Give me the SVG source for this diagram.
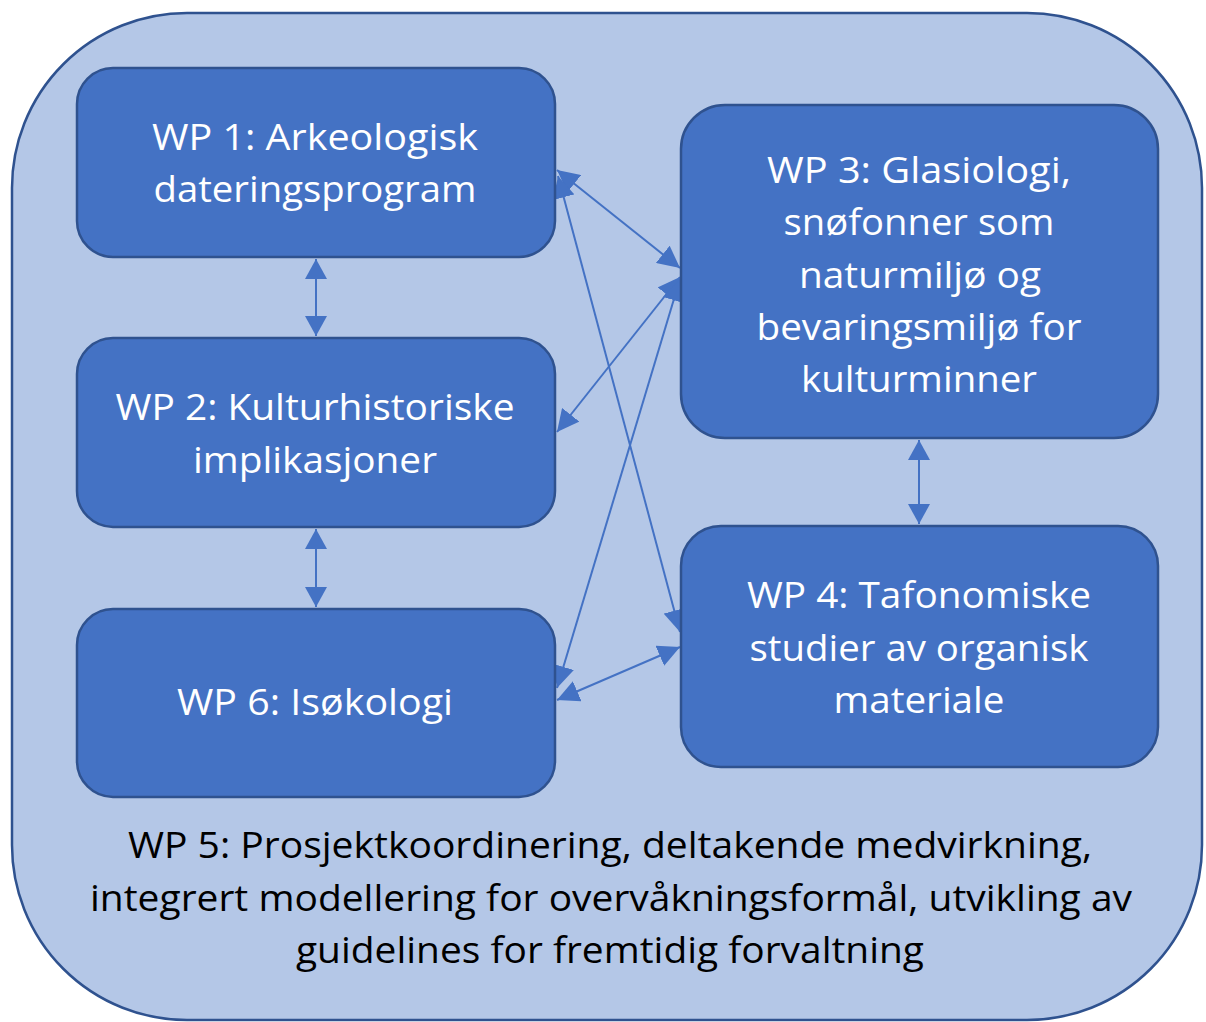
<svg xmlns="http://www.w3.org/2000/svg" width="1206" height="1022" viewBox="0 0 1206 1022">
<defs>
<style>
.node rect{fill:#4472C4;stroke:#2F528F;stroke-width:2.5}
.node text{fill:#fff;font-family:"Open Sans","Liberation Sans",sans-serif;font-size:36px;text-anchor:middle}
.outer{fill:#B4C7E7;stroke:#2F528F;stroke-width:2.5}
.wp5{fill:#000;font-family:"Open Sans","Liberation Sans",sans-serif;font-size:36px;text-anchor:middle}
#connectors line{stroke:#4472C4;stroke-width:2;marker-start:url(#ah);marker-end:url(#ah)}
#connectors line.v{marker-start:url(#ahv);marker-end:url(#ahv)}
</style>
<marker id="ah" viewBox="0 0 22 22" refX="22" refY="11" markerWidth="22" markerHeight="22" markerUnits="userSpaceOnUse" orient="auto-start-reverse">
<path d="M0,0 L22,11 L0,22 z" fill="#4472C4"/>
</marker>
<marker id="ahv" viewBox="0 0 20 22" refX="20" refY="11" markerWidth="20" markerHeight="22" markerUnits="userSpaceOnUse" orient="auto-start-reverse">
<path d="M0,0 L20,11 L0,22 z" fill="#4472C4"/>
</marker>
</defs>
<rect width="1206" height="1022" fill="#fff"/>
<g id="wp5">
<rect class="outer" x="12" y="13" width="1190" height="1007" rx="175" ry="175"/>
<text class="wp5" x="610" y="858" textLength="964" lengthAdjust="spacingAndGlyphs">WP 5: Prosjektkoordinering, deltakende medvirkning,</text>
<text class="wp5" x="611" y="911" textLength="1042" lengthAdjust="spacingAndGlyphs">integrert modellering for overvåkningsformål, utvikling av</text>
<text class="wp5" x="610" y="963" textLength="628" lengthAdjust="spacingAndGlyphs">guidelines for fremtidig forvaltning</text>
</g>
<g id="connectors">
<line class="v" x1="316" y1="259" x2="316" y2="336"/>
<line class="v" x1="316" y1="529" x2="316" y2="607"/>
<line class="v" x1="919" y1="440" x2="919" y2="524"/>
<line x1="557" y1="170" x2="680" y2="268"/>
<line x1="558" y1="176" x2="680" y2="632"/>
<line x1="557" y1="432" x2="680" y2="277"/>
<line x1="557" y1="688" x2="680" y2="279"/>
<line x1="557" y1="700" x2="680" y2="647"/>
</g>
<g id="wp1" class="node">
<rect x="77" y="68" width="478" height="189" rx="36"/>
<text x="315" y="150" textLength="326" lengthAdjust="spacingAndGlyphs">WP 1: Arkeologisk</text>
<text x="315" y="202" textLength="323" lengthAdjust="spacingAndGlyphs">dateringsprogram</text>
</g>
<g id="wp2" class="node">
<rect x="77" y="338" width="478" height="189" rx="36"/>
<text x="315" y="420" textLength="399" lengthAdjust="spacingAndGlyphs">WP 2: Kulturhistoriske</text>
<text x="315" y="473" textLength="244" lengthAdjust="spacingAndGlyphs">implikasjoner</text>
</g>
<g id="wp6" class="node">
<rect x="77" y="609" width="478" height="188" rx="36"/>
<text x="315" y="715" textLength="276" lengthAdjust="spacingAndGlyphs">WP 6: Isøkologi</text>
</g>
<g id="wp3" class="node">
<rect x="681" y="105" width="477" height="333" rx="44"/>
<text x="919" y="183" textLength="304" lengthAdjust="spacingAndGlyphs">WP 3: Glasiologi,</text>
<text x="919" y="235" textLength="271" lengthAdjust="spacingAndGlyphs">snøfonner som</text>
<text x="920" y="288" textLength="242" lengthAdjust="spacingAndGlyphs">naturmiljø og</text>
<text x="919" y="340" textLength="325" lengthAdjust="spacingAndGlyphs">bevaringsmiljø for</text>
<text x="919" y="392" textLength="236" lengthAdjust="spacingAndGlyphs">kulturminner</text>
</g>
<g id="wp4" class="node">
<rect x="681" y="526" width="477" height="241" rx="40"/>
<text x="919" y="608" textLength="344" lengthAdjust="spacingAndGlyphs">WP 4: Tafonomiske</text>
<text x="919" y="661" textLength="339" lengthAdjust="spacingAndGlyphs">studier av organisk</text>
<text x="919" y="713" textLength="171" lengthAdjust="spacingAndGlyphs">materiale</text>
</g>
</svg>
